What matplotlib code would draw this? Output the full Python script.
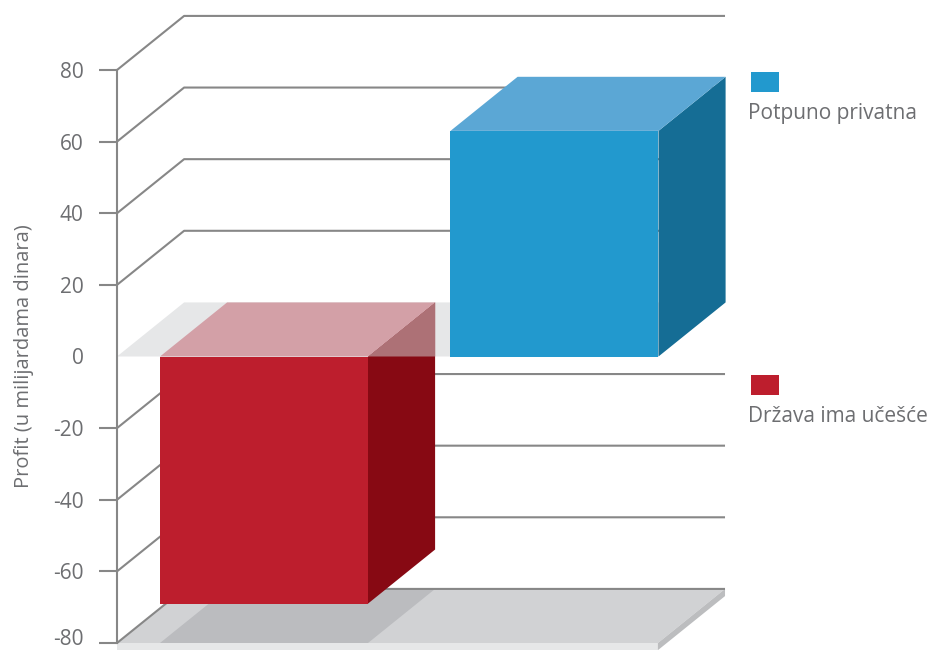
import matplotlib.pyplot as plt
from matplotlib.patches import Polygon
from matplotlib.transforms import ScaledTranslation

plt.rcParams['font.family'] = ['Open Sans', 'DejaVu Sans']

# data
categories = ['Država ima učešće', 'Potpuno privatna']
profits = [-69, 63]
yticks = [-80, -60, -40, -20, 0, 20, 40, 60, 80]
ylabel = 'Profit (u milijardama dinara)'

# colours per bar: front, side, top
front_colors = ['#bd1e2d', '#2299ce']
side_colors = ['#870913', '#156d95']
top_colors = ['#d3a0a7', '#5ba7d5']
side_upper = '#ad7176'   # part of a negative bar's side seen through the zero plane

GRID = '#878787'
TEXT = '#6d6e71'

# pseudo 3d geometry (data units)
BAR_W = 0.716
DX = 0.231      # depth shift in x
DY = 15.1       # depth shift in y
X0 = -0.506     # front axis position
X_END = 1.356   # front right edge of planes
FLOOR_T = 2.0
YMIN, YMAX = -80, 80

fig = plt.figure(figsize=(9.32, 6.5), dpi=100)
ax = fig.add_axes([117 / 932, 7 / 650, 815 / 932, 573 / 650])
ax.set_xlim(X0, X0 + 815 / 290.5)
ax.set_ylim(YMIN, YMAX)


def face(pts, color, z):
    ax.add_patch(Polygon(pts, closed=True, facecolor=color, edgecolor='none',
                         zorder=z, clip_on=False))


# floor slab
face([(X0, YMIN), (X_END, YMIN), (X_END + DX, YMIN + DY), (X0 + DX, YMIN + DY)], '#d1d2d4', 1)
face([(X0, YMIN - FLOOR_T), (X_END, YMIN - FLOOR_T), (X_END, YMIN), (X0, YMIN)], '#e6e7e8', 1)
face([(X_END, YMIN - FLOOR_T), (X_END + DX, YMIN - FLOOR_T + DY),
      (X_END + DX, YMIN + DY), (X_END, YMIN)], '#bcbdbf', 1)

# shadows of the negative bars on the floor
for i, v in enumerate(profits):
    if v < 0:
        l, r = i - BAR_W / 2, i + BAR_W / 2
        face([(l, YMIN), (r, YMIN), (r + DX, YMIN + DY), (l + DX, YMIN + DY)], '#bbbcbf', 1.5)

# back wall grid lines with the left diagonal
for t in yticks:
    if t == 0:
        continue
    ax.plot([X0, X0 + DX, X_END + DX], [t, t + DY, t + DY], color=GRID, lw=1.5,
            solid_capstyle='butt', zorder=2, clip_on=False)

# zero plane
face([(X0, 0), (X_END, 0), (X_END + DX, DY), (X0 + DX, DY)], '#e6e7e8', 3)

# bars
for i, v in enumerate(profits):
    l, r = i - BAR_W / 2, i + BAR_W / 2
    face([(r, 0), (r + DX, DY), (r + DX, v + DY), (r, v)], side_colors[i], 4)
    if v < 0:
        face([(r, 0), (r + DX, DY), (r + DX, 0)], side_upper, 4.5)
    top = max(v, 0)
    face([(l, top), (r, top), (r + DX, top + DY), (l + DX, top + DY)], top_colors[i], 5)
    face([(l, 0), (r, 0), (r, v), (l, v)], front_colors[i], 6)

# axis
for s in ['top', 'right', 'bottom']:
    ax.spines[s].set_visible(False)
ax.spines['left'].set_bounds(YMIN, YMAX)
ax.spines['left'].set_color(GRID)
ax.spines['left'].set_linewidth(1.5)
ax.spines['left'].set_zorder(7)
ax.set_xticks([])
ax.set_yticks(yticks)
ax.set_yticklabels([str(t) for t in yticks])
ax.tick_params(axis='y', direction='out', length=13, width=1.5, color=GRID,
               labelcolor=TEXT, labelsize=15, pad=11)
for tk, t in zip(ax.yaxis.get_major_ticks(), yticks):
    if t == 0:
        tk.tick1line.set_visible(False)
    if t == YMIN:
        # keep the lowest label inside the canvas
        lbl = tk.label1
        lbl.set_transform(lbl.get_transform() + ScaledTranslation(0, 6 / 100, fig.dpi_scale_trans))
ax.patch.set_visible(False)

fig.text(24 / 932, 0.452, ylabel, rotation=90, ha='center', va='center',
         fontsize=14.5, color=TEXT)

# legend (square above label)
legend_pos = {1: (72, 114), 0: (375, 417)}
for i, name in enumerate(categories):
    sq_top, txt_y = legend_pos[i]
    fig.patches.append(plt.Rectangle((751 / 932, (650 - sq_top - 20) / 650), 28 / 932, 20 / 650,
                                     transform=fig.transFigure, facecolor=front_colors[i],
                                     edgecolor='none'))
    fig.text(748 / 932, (650 - txt_y) / 650, name, ha='left', va='center',
             fontsize=15, color=TEXT)

fig.savefig('out.png', dpi=100)
